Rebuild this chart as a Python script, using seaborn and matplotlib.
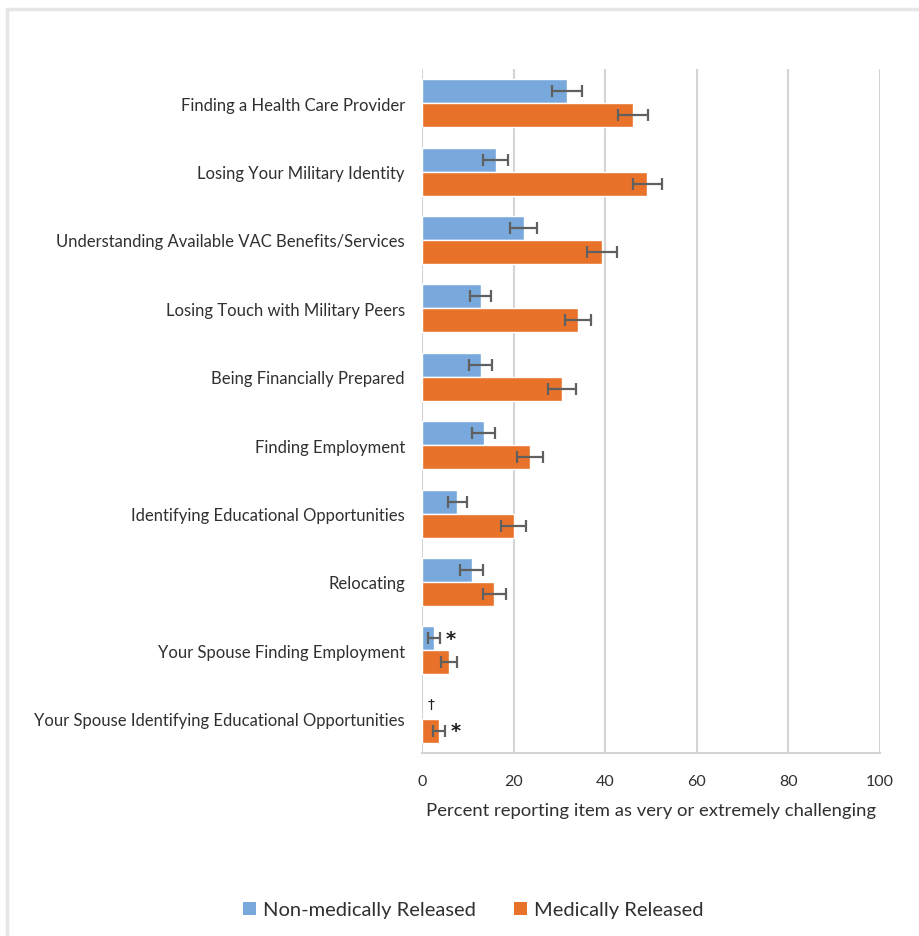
import numpy as np
import pandas as pd
import matplotlib
matplotlib.use("Agg")
import matplotlib.pyplot as plt
import seaborn as sns
from matplotlib.patches import Rectangle, Patch

categories = [
    "Finding a Health Care Provider",
    "Losing Your Military Identity",
    "Understanding Available VAC Benefits/Services",
    "Losing Touch with Military Peers",
    "Being Financially Prepared",
    "Finding Employment",
    "Identifying Educational Opportunities",
    "Relocating",
    "Your Spouse Finding Employment",
    "Your Spouse Identifying Educational Opportunities",
]
series_names = ["Non-medically Released", "Medically Released"]
non_medical = [31.6, 16.1, 22.2, 12.8, 12.8, 13.5, 7.7, 10.9, 2.6, np.nan]
non_medical_err = [3.3, 2.7, 3.0, 2.3, 2.5, 2.5, 2.1, 2.5, 1.35, np.nan]
medical = [46.1, 49.2, 39.3, 34.1, 30.6, 23.6, 20.0, 15.8, 5.9, 3.7]
medical_err = [3.3, 3.1, 3.3, 2.8, 3.0, 2.8, 2.7, 2.5, 1.8, 1.4]
xticks = [0, 20, 40, 60, 80, 100]
xlabel = "Percent reporting item as very or extremely challenging"

colors = ["#78A8DC", "#E8722A"]
text_color = "#303030"

df = pd.DataFrame({
    "category": categories * 2,
    "group": [series_names[0]] * len(categories) + [series_names[1]] * len(categories),
    "value": non_medical + medical,
})

sns.set_theme(style="white")
plt.rcParams["font.family"] = ["Lato", "DejaVu Sans"]

fig = plt.figure(figsize=(9.19, 9.37), dpi=100)
ax = fig.add_axes([422 / 919, 1 - 754 / 937, 458 / 919, 684 / 937])

sns.barplot(data=df, y="category", x="value", hue="group", order=categories,
            hue_order=series_names, palette=colors, orient="h", errorbar=None,
            width=0.7, saturation=1, ax=ax, legend=False)

m_cont = ax.containers[1]
bar_h = m_cont.patches[0].get_height()

def center_y(i, series):
    p = m_cont.patches[i]
    yc = p.get_y() + p.get_height() / 2
    return yc - bar_h if series == 0 else yc

for s, (vals, errs) in enumerate([(non_medical, non_medical_err), (medical, medical_err)]):
    for i, (v, e) in enumerate(zip(vals, errs)):
        if np.isnan(v) or np.isnan(e):
            continue
        ax.errorbar(v, center_y(i, s), xerr=e, fmt="none", ecolor="#606060",
                    elinewidth=1.6, capsize=4.5, capthick=1.6, zorder=5)

# annotations
ax.text(non_medical[8] + non_medical_err[8] + 2.3, center_y(8, 0), "*",
        fontsize=14, fontweight="bold", color="#202020", ha="center", va="center",
        family="DejaVu Sans")
ax.text(medical[9] + medical_err[9] + 2.3, center_y(9, 1), "*",
        fontsize=14, fontweight="bold", color="#202020", ha="center", va="center",
        family="DejaVu Sans")
ax.text(2.0, center_y(9, 0) - 0.05, "\u2020", fontsize=10,
        color="#202020", ha="center", va="center", family="DejaVu Sans")

ax.set_xlim(0, 100)
ax.set_ylim(len(categories) - 0.5, -0.5)
ax.set_xticks(xticks)
ax.set_xticklabels([str(t) for t in xticks])
ax.xaxis.grid(True, color="#D4D4D4", linewidth=1.5)
ax.yaxis.grid(False)
ax.set_axisbelow(True)
for s in ["top", "right", "left"]:
    ax.spines[s].set_visible(False)
ax.spines["bottom"].set_color("#D4D4D4")
ax.spines["bottom"].set_linewidth(1.5)
ax.tick_params(axis="x", length=0, pad=15, labelsize=11.5, labelcolor=text_color)
ax.tick_params(axis="y", length=0, pad=12.3, labelsize=12, labelcolor=text_color)
ax.set_ylabel("")
ax.set_xlabel(xlabel, fontsize=13.3, color=text_color, labelpad=10)

handles = [Patch(facecolor=c, edgecolor="none") for c in colors]
fig.legend(handles, series_names, loc="center", bbox_to_anchor=(473 / 919, 1 - 911 / 937),
           ncol=2, frameon=False, fontsize=14.5, handlelength=0.65, handleheight=0.65,
           handletextpad=0.35, columnspacing=1.9, labelcolor=text_color)

fig.patches.append(Rectangle((7 / 919, -0.01), 1.02, 1 - 10 / 937 + 0.01,
                             transform=fig.transFigure, fill=False,
                             edgecolor="#E6E6E6", linewidth=2.5))

fig.savefig("out.png", dpi=100)
